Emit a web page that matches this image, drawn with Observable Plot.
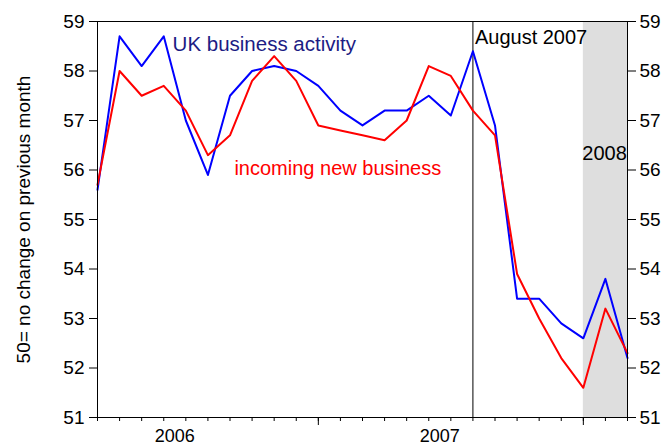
<!DOCTYPE html>
<html>
<head>
<meta charset="utf-8">
<script src="https://cdn.jsdelivr.net/npm/d3@7"></script>
<script src="https://cdn.jsdelivr.net/npm/@observablehq/plot@0.6"></script>
<style>
  html, body { margin: 0; padding: 0; background: white; }
</style>
</head>
<body>
<div id="chart"></div>
<script>
// ---- data ----
const months = ["2006-03","2006-04","2006-05","2006-06","2006-07","2006-08","2006-09","2006-10","2006-11","2006-12",
                "2007-01","2007-02","2007-03","2007-04","2007-05","2007-06","2007-07","2007-08","2007-09","2007-10","2007-11","2007-12",
                "2008-01","2008-02","2008-03"];
const businessActivity = [55.6, 58.7, 58.1, 58.7, 57.0, 55.9, 57.5, 58.0, 58.1, 58.0,
                          57.7, 57.2, 56.9, 57.2, 57.2, 57.5, 57.1, 58.4, 56.9, 53.4, 53.4, 52.9,
                          52.6, 53.8, 52.2];
const newBusiness = [55.7, 58.0, 57.5, 57.7, 57.2, 56.3, 56.7, 57.8, 58.3, 57.8,
                     56.9, 56.8, 56.7, 56.6, 57.0, 58.1, 57.9, 57.2, 56.7, 53.9, 53.0, 52.2,
                     51.6, 53.2, 52.3];
const yTicks = [51, 52, 53, 54, 55, 56, 57, 58, 59];
const years = ["2006", "2007"];
const eventMonth = "2007-08";
const shadeStart = "2008-01";
const shadeEnd = "2008-03";
const seriesNames = ["UK business activity", "incoming new business"];
const yTitle = "50= no change on previous month";

// month string -> month index counted from Jan 2006
const mi = s => (+s.slice(0, 4) - 2006) * 12 + (+s.slice(5, 7) - 1);

const rows = months.map((m, i) => ({x: mi(m), a: businessActivity[i], n: newBusiness[i]}));
const janTicks = months.filter(m => m.endsWith("-01")).map(mi);
const yearPos = years.map(y => ({x: (+y - 2006) * 12 + 5.5, label: y}));

const font = "'Liberation Sans', Arial, Helvetica, sans-serif";

const chart = Plot.plot({
  width: 672,
  height: 446,
  marginLeft: 97,
  marginRight: 45,
  marginTop: 21,
  marginBottom: 29,
  style: {fontFamily: font, fontSize: "18px", background: "white", color: "black"},
  x: {type: "linear", domain: [mi(months[0]), mi(months[months.length - 1])]},
  y: {domain: [51, 59]},
  marks: [
    Plot.rect([{x1: mi(shadeStart), x2: mi(shadeEnd)}], {x1: "x1", x2: "x2", y1: 51, y2: 59, fill: "#dedede"}),
    Plot.ruleX([mi(eventMonth)], {stroke: "black", strokeWidth: 1}),
    Plot.line(rows, {x: "x", y: "a", stroke: "#0000ff", strokeWidth: 2}),
    Plot.line(rows, {x: "x", y: "n", stroke: "#ff0000", strokeWidth: 2}),
    Plot.frame({stroke: "black", strokeWidth: 1}),
    Plot.axisY({anchor: "left", ticks: yTicks, tickSize: 8, tickPadding: 5, label: null, fontSize: 19}),
    Plot.axisY({anchor: "right", ticks: yTicks, tickSize: 8, tickPadding: 4, label: null, fontSize: 19}),
    Plot.axisX({ticks: months.map(mi), tickSize: 4, tickFormat: () => "", label: null}),
    Plot.axisX({ticks: janTicks, tickSize: 8, tickFormat: () => "", label: null}),
    Plot.text(yearPos, {x: "x", text: "label", frameAnchor: "bottom", lineAnchor: "top", dy: 12, fontSize: 18}),
    Plot.text([seriesNames[0]], {x: 5.4, y: 58.53, textAnchor: "start", fill: "#1c1c84", fontSize: 20.5}),
    Plot.text([seriesNames[1]], {x: 8.2, y: 56.03, textAnchor: "start", fill: "#ff0000", fontSize: 20, letterSpacing: "0.55px"}),
    Plot.text(["August 2007"], {x: mi(eventMonth), y: 58.68, dx: 2, textAnchor: "start", fill: "black", fontSize: 20}),
    Plot.text(["2008"], {x: mi(shadeStart), y: 56.34, dx: -1, textAnchor: "start", fill: "black", fontSize: 20}),
    Plot.text([yTitle], {frameAnchor: "left", textAnchor: "middle", rotate: -90, dx: -74, fontSize: 19, letterSpacing: "1.4px", fill: "black"})
  ]
});
document.getElementById("chart").appendChild(chart);
</script>
</body>
</html>
